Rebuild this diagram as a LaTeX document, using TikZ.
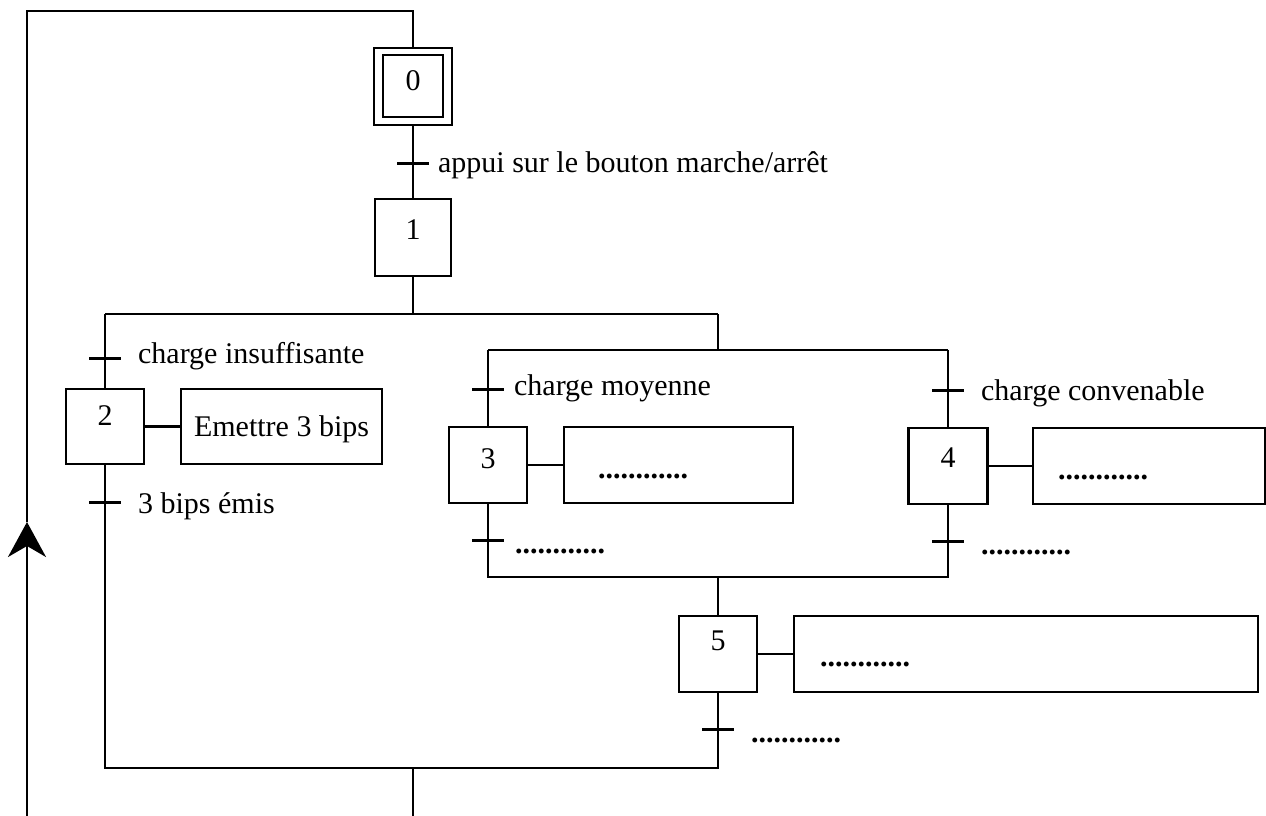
\documentclass[tikz,border=0pt]{standalone}
\usepackage{fontspec}
\setmainfont{Liberation Serif}
\usetikzlibrary{arrows.meta}
\begin{document}
\begin{tikzpicture}[x=1pt,y=-1pt, line width=2.3pt, line join=miter,
  every node/.style={font=\fontsize{30}{36}\selectfont},
  stepbox/.style={draw, rectangle, inner sep=0pt, line width=2.3pt},
  actbox/.style={draw, rectangle, inner sep=0pt, line width=2.3pt, text depth=0pt},
  trans/.style={fill=black, draw=none, inner sep=0pt, minimum width=32pt, minimum height=3pt},
  lbl/.style={anchor=base west, inner sep=0pt},
  num/.style={anchor=base, inner sep=0pt},
  dotlbl/.style={anchor=base west, inner sep=0pt, font=\fontsize{30}{36}\selectfont\bfseries}]
\useasboundingbox (0,0) rectangle (1266,816);

% step 0 (initial)
\node[stepbox, minimum width=78pt, minimum height=77pt] (s0) at (413,86.5) {};
\node[stepbox, minimum width=60pt, minimum height=62pt] (s0i) at (413,86) {};
\node[num] (n0) at (413,91) {0};
\node[trans] (t01) at (413,163) {};
\node[lbl] (l01) at (437,172) {appui sur le bouton marche/arrêt};

% step 1
\node[stepbox, minimum width=76pt, minimum height=77pt] (s1) at (413,237.5) {};
\node[num] (n1) at (413,239) {1};

% divergence coordinates
\coordinate (d1M) at (413,314);
\coordinate (d1L) at (105,314);
\coordinate (d1R) at (718,314);
\coordinate (d2M) at (718,350);
\coordinate (d2L) at (488,350);
\coordinate (d2R) at (948,350);

% branch step 2
\node[trans] (t2a) at (105,358) {};
\node[lbl] (l2a) at (137,363) {charge insuffisante};
\node[stepbox, minimum width=78pt, minimum height=75pt] (s2) at (105,426.5) {};
\node[num] (n2) at (105,425) {2};
\node[actbox, minimum width=201pt, minimum height=75pt] (a2) at (281.5,426.5) {Emettre 3 bips};
\node[trans] (t2b) at (105,502) {};
\node[lbl] (l2b) at (137,513) {3 bips émis};

% branch step 3
\node[trans] (t3a) at (488,389) {};
\node[lbl] (l3a) at (513,395) {charge moyenne};
\node[stepbox, minimum width=78pt, minimum height=76pt] (s3) at (488,465) {};
\node[num] (n3) at (488,468) {3};
\node[actbox, minimum width=229pt, minimum height=76pt] (a3) at (678.5,465) {};
\node[dotlbl] (a3t) at (597,478) {............};
\node[trans] (t3b) at (488,540) {};
\node[dotlbl] (l3b) at (514,553) {............};

% branch step 4
\node[trans] (t4a) at (948,390) {};
\node[lbl] (l4a) at (980,400) {charge convenable};
\node[stepbox, minimum width=79pt, minimum height=76pt] (s4) at (948,466) {};
\node[num] (n4) at (948,467) {4};
\node[actbox, minimum width=232pt, minimum height=76pt] (a4) at (1149,466) {};
\node[dotlbl] (a4t) at (1057,479) {............};
\node[trans] (t4b) at (948,541) {};
\node[dotlbl] (l4b) at (980,554) {............};

% convergence 3/4
\coordinate (c2L) at (488,577);
\coordinate (c2R) at (948,577);
\coordinate (c2M) at (718,577);

% step 5
\node[stepbox, minimum width=78pt, minimum height=76pt] (s5) at (718,654) {};
\node[num] (n5) at (718,650) {5};
\node[actbox, minimum width=464pt, minimum height=76pt] (a5) at (1026,654) {};
\node[dotlbl] (a5t) at (819,666) {............};
\node[trans] (t5) at (718,729) {};
\node[dotlbl] (l5) at (750,742) {............};

% final convergence
\coordinate (c1L) at (105,768);
\coordinate (c1R) at (718,768);
\coordinate (c1M) at (413,768);
\coordinate (bot) at (413,816);

% return loop
\coordinate (lbot) at (27,816);
\coordinate (tip) at (27,522);
\coordinate (ltop) at (27,11);
\coordinate (ttop) at (413,11);

% connectors
\draw (s0.south) -- (t01.center) -- (s1.north);
\draw (s1.south) -- (d1M);
\draw (d1L) -- (d1R);
\draw (d1L) -- (t2a.center) -- (s2.north);
\draw (s2.east) -- (a2.west);
\draw (s2.south) -- (t2b.center) -- (c1L) -- (c1R) -- (t5.center) -- (s5.south);
\draw (d1R) -- (d2M);
\draw (d2L) -- (d2R);
\draw (d2L) -- (t3a.center) -- (s3.north);
\draw (s3.east) -- (a3.west);
\draw (s3.south) -- (t3b.center) -- (c2L) -- (c2R) -- (t4b.center) -- (s4.south);
\draw (d2R) -- (t4a.center) -- (s4.north);
\draw (s4.east) -- (a4.west);
\draw (c2M) -- (s5.north);
\draw (s5.east) -- (a5.west);
\draw (c1M) -- (bot);
\draw[-{Stealth[length=35pt,width=38pt,inset=11pt]}] (lbot) -- (tip);
\draw (tip) -- (ltop) -- (ttop) -- (s0.north);
\end{tikzpicture}
\end{document}
